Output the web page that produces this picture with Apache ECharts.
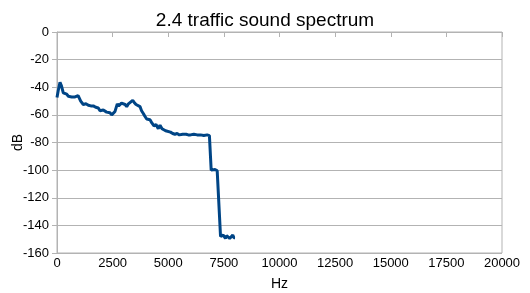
<!DOCTYPE html>
<html>
<head>
<meta charset="utf-8">
<script src="https://cdn.jsdelivr.net/npm/echarts@6/dist/echarts.min.js"></script>
<style>
  html, body { margin: 0; padding: 0; background: #fff; }
  #chart { width: 530px; height: 293px; }
</style>
</head>
<body>
<div id="chart"></div>
<script>
// spectrum
const freqHz = [
  0, 60, 135, 200, 283, 360, 436, 510, 584, 660, 733, 810, 885, 950, 1002, 1065, 1120, 1182,
  1300, 1407, 1520, 1631, 1740, 1856, 1933, 2009, 2080, 2157, 2230, 2306, 2380, 2458,
  2530, 2607, 2710, 2770, 2831, 2900, 2980, 3060, 3133, 3210, 3281, 3402, 3470, 3551,
  3640, 3730, 3800, 3879, 3950, 4031, 4100, 4180, 4270, 4360, 4450, 4553, 4630, 4720,
  4800, 4880, 4950, 5100, 5200, 5300, 5400, 5500, 5650, 5800, 5900, 6000, 6150, 6300,
  6450, 6600, 6750, 6850, 6900, 6930, 7000, 7100, 7200, 7250, 7350, 7420, 7470, 7520,
  7570, 7620, 7700, 7760, 7820, 7900, 7950, 8000,
]
const levelDb = [
  -47.5, -42, -36.5, -39, -44, -44.5, -45, -46.5, -47.5, -47, -48, -47, -47.5, -46, -45.8, -50, -51, -52.5,
  -52, -53, -53.5, -53.5, -54.5, -55, -57, -55.7, -56.5, -57.5, -58, -59, -58.5, -60,
  -59, -57.5, -52, -53.5, -52.5, -51.5, -51, -52.5, -54, -52, -52, -49.5, -51, -52.5,
  -53, -54, -57, -59, -61, -63, -62, -63.5, -66, -68, -67, -70, -67.5, -70,
  -70, -71.5, -72, -72.5, -73.5, -74, -73.5, -74.5, -74, -74, -74.5, -74.5, -74, -74.5,
  -74.5, -75, -74.5, -75, -76, -100, -100, -99.5, -100.5, -101, -148, -149, -147, -146.5,
  -149.5, -147.5, -147, -149.5, -150, -147, -149, -149,
]
const xTicks = { min: 0, max: 20000, step: 2500 }
const yTicks = { min: -160, max: 0, step: 20 }

const gray = '#b3b3b3'
const font = 'Liberation Sans, Arial, sans-serif'

const chart = echarts.init(document.getElementById('chart'), null, { renderer: 'canvas' })
chart.setOption({
  animation: false,
  title: {
    text: '2.4 traffic sound spectrum',
    left: 'center',
    top: 6,
    textStyle: { fontFamily: font, fontSize: 19, fontWeight: 'normal', color: '#000' },
  },
  grid: {
    left: 57, right: 28, top: 32, bottom: 40,
    outerBoundsMode: 'none',
    containLabel: false,
    show: true, borderColor: gray, borderWidth: 1,
  },
  xAxis: {
    type: 'value',
    min: xTicks.min, max: xTicks.max, interval: xTicks.step,
    name: 'Hz', nameLocation: 'middle', nameGap: 24, nameMoveOverlap: false,
    nameTextStyle: { fontFamily: font, fontSize: 14, color: '#000' },
    axisLine: { lineStyle: { color: gray } },
    axisTick: { show: true, length: 5, lineStyle: { color: gray } },
    axisLabel: { fontFamily: font, fontSize: 13, color: '#000', margin: 4, formatter: (v) => String(v) },
    splitLine: { show: false },
  },
  yAxis: {
    type: 'value',
    min: yTicks.min, max: yTicks.max, interval: yTicks.step,
    name: 'dB', nameLocation: 'middle', nameGap: 32, nameMoveOverlap: false,
    nameTextStyle: { fontFamily: font, fontSize: 14, color: '#000' },
    axisLine: { show: true, lineStyle: { color: gray } },
    axisTick: { show: true, length: 5, lineStyle: { color: gray } },
    axisLabel: { fontFamily: font, fontSize: 13, color: '#000', margin: 8, formatter: (v) => String(v) },
    splitLine: { lineStyle: { color: gray } },
  },
  series: [{
    type: 'line',
    showSymbol: false,
    lineStyle: { color: '#004586', width: 3 },
    data: freqHz.map((f, i) => [f, levelDb[i]]),
  }],
})
</script>
</body>
</html>
